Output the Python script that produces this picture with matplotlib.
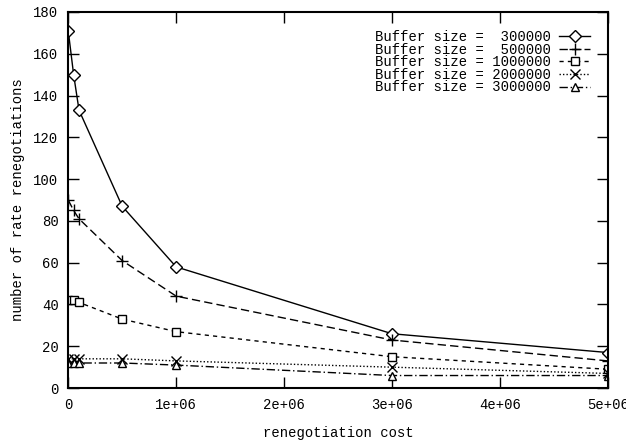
import numpy as np
import matplotlib
matplotlib.use('Agg')
import matplotlib.pyplot as plt

plt.rcParams['font.family'] = ['Liberation Mono', 'DejaVu Sans Mono']

cost = [0, 50000, 100000, 500000, 1000000, 3000000, 5000000]

buf_300k = [171, 150, 133, 87, 58, 26, 17]
buf_500k = [90, 85, 81, 61, 44, 23, 13]
buf_1m = [42, 42, 41, 33, 27, 15, 9]
buf_2m = [14, 14, 14, 14, 13, 10, 7]
buf_3m = [12, 12, 12, 12, 11, 6, 6]

labels = ['Buffer size =  300000',
          'Buffer size =  500000',
          'Buffer size = 1000000',
          'Buffer size = 2000000',
          'Buffer size = 3000000']

xtick_vals = [0, 1000000, 2000000, 3000000, 4000000, 5000000]
xtick_labels = ['0', '1e+06', '2e+06', '3e+06', '4e+06', '5e+06']
ytick_vals = [0, 20, 40, 60, 80, 100, 120, 140, 160, 180]

fig = plt.figure(figsize=(6.26, 4.43), dpi=100)
ax = fig.add_axes([0.109, 0.124, 0.862, 0.849])

# one curve per buffer size
ax.plot(cost, buf_300k, color='k', lw=1, ls='-', marker='D', ms=6,
        mfc='white', mew=1, label=labels[0])
ax.plot(cost, buf_500k, color='k', lw=1, ls=(0, (6, 3)), marker='+', ms=8,
        mew=1, label=labels[1])
ax.plot(cost, buf_1m, color='k', lw=1, ls=(0, (3, 3)), marker='s', ms=6,
        mfc='white', mew=1, label=labels[2])
ax.plot(cost, buf_2m, color='k', lw=1, ls=(0, (1, 1.5)), marker='x', ms=7,
        mew=1, label=labels[3])
ax.plot(cost, buf_3m, color='k', lw=1, ls=(0, (6, 2, 1, 2)), marker='^', ms=6,
        mfc='white', mew=1, label=labels[4])

ax.set_xlim(0, 5000000)
ax.set_ylim(0, 180)
ax.set_xticks(xtick_vals)
ax.set_xticklabels(xtick_labels)
ax.set_yticks(ytick_vals)
ax.tick_params(direction='in', length=8, width=1, top=True, right=True,
               labelsize=10, pad=7)
for s in ax.spines.values():
    s.set_linewidth(1.5)

ax.set_xlabel('renegotiation cost', fontsize=10, labelpad=10)
ax.set_ylabel('number of rate renegotiations', fontsize=10, labelpad=6)

ax.legend(loc='upper right', frameon=False, markerfirst=False, fontsize=10,
          handlelength=2.2, labelspacing=-0.1, borderaxespad=0.9,
          handletextpad=0.6)

plt.savefig('out.png', dpi=100)
